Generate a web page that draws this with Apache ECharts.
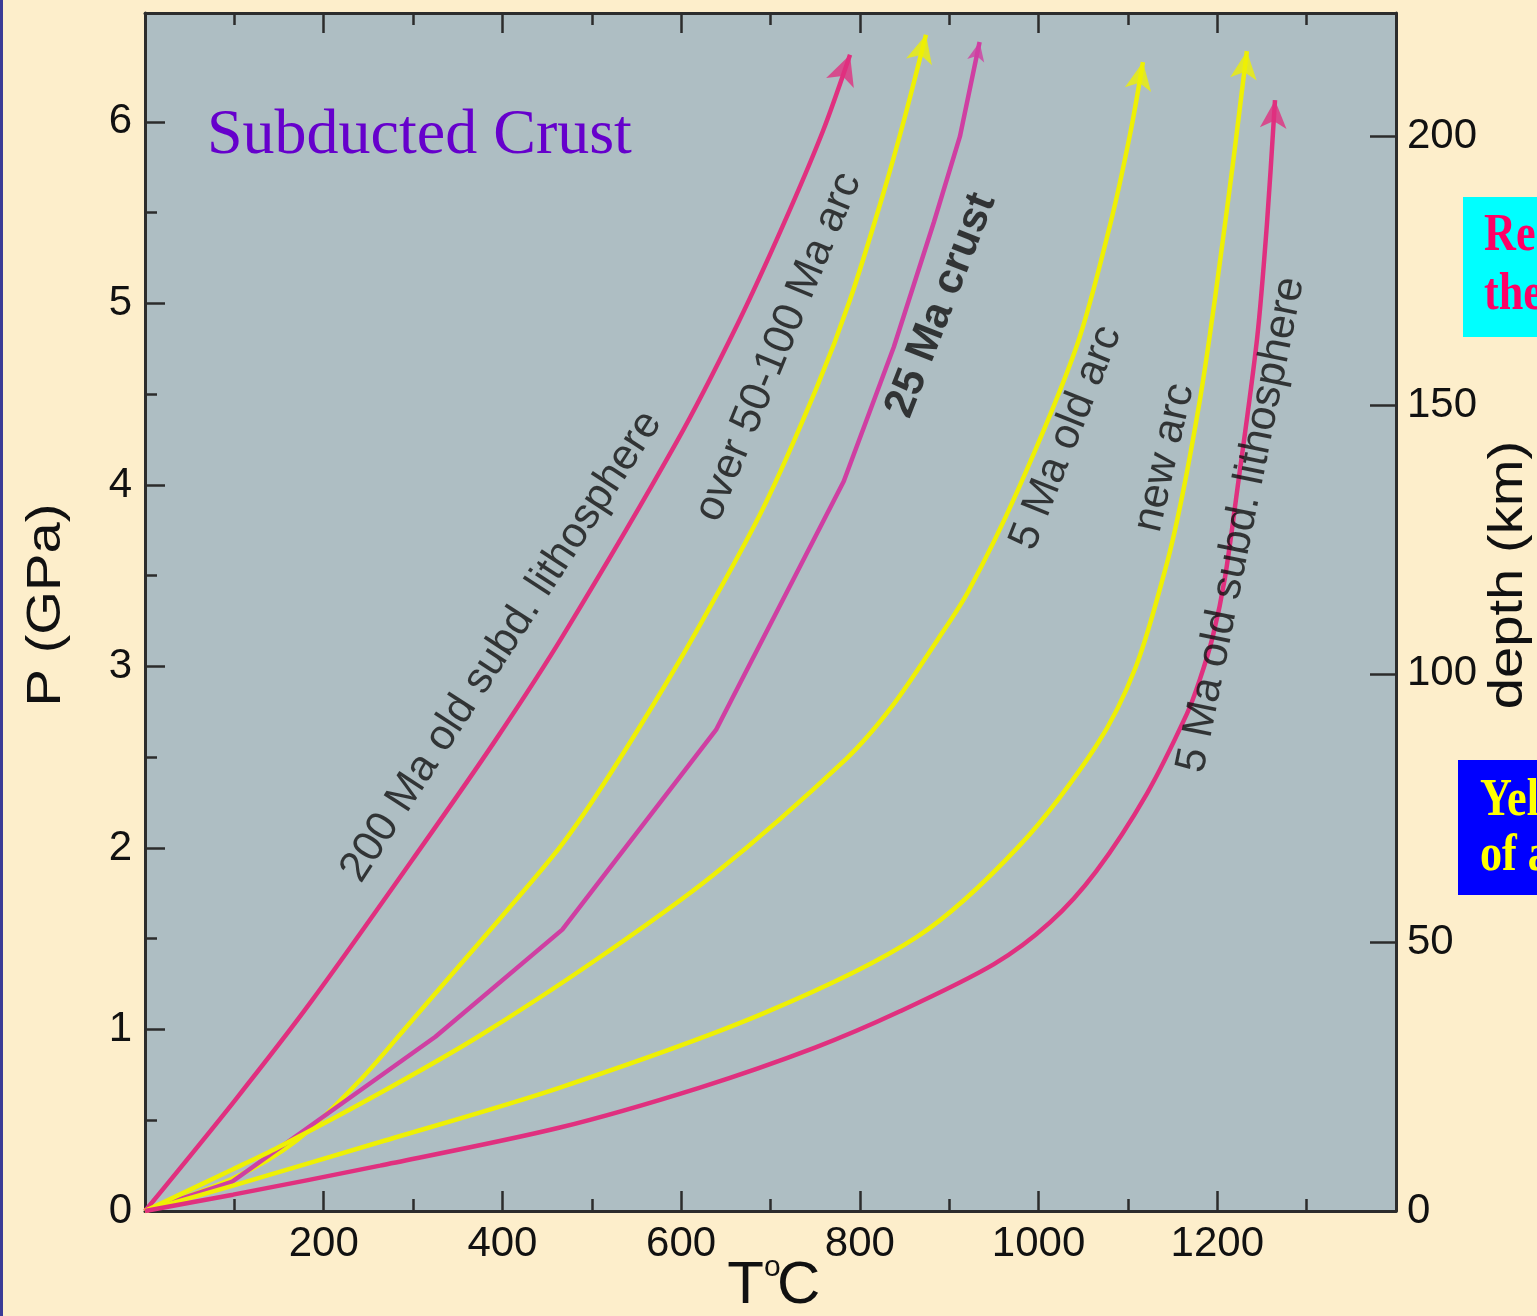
<!DOCTYPE html>
<html>
<head>
<meta charset="utf-8">
<script src="https://cdn.jsdelivr.net/npm/echarts@6/dist/echarts.min.js"></script>
<style>
html,body{margin:0;padding:0;background:#FDEECB;}
#c{width:1537px;height:1316px;}
</style>
</head>
<body>
<div id="c"></div>
<script>
// ---------------- data (T in °C, P in GPa) ----------------
const xTickLabels = [200, 400, 600, 800, 1000, 1200];
const pressureTicks = [0, 1, 2, 3, 4, 5, 6];
const pressureMinorTicks = [0.5, 1.5, 2.5, 3.5, 4.5, 5.5];
const depthTicks = [0, 50, 100, 150, 200];

const curveNames = ['200 Ma old subd. lithosphere', 'over 50-100 Ma arc', '25 Ma crust',
                    '5 Ma old arc', 'new arc', '5 Ma old subd. lithosphere'];

const lith200Ma = [[0,0],[100.7,0.61],[186.9,1.16],[310,2.01],[391.7,2.59],[467.8,3.17],
                   [595.3,4.24],[662.5,4.88],[714,5.43],[758.7,5.95],[789,6.37]];
const arc50to100Ma = [[0,0],[98.5,0.18],[170.1,0.39],[240.6,0.72],[298.8,1.05],[372.6,1.47],
                      [458.8,1.97],[503.6,2.28],[565.2,2.76],[617.8,3.20],[691.6,3.87],
                      [752,4.54],[789,5.02],[825.9,5.60],[850.5,6.03],[874,6.48]];
const crust25Ma = [[0,0],[97,0.16],[325,0.96],[467,1.55],[639,2.65],[782,4.02],[838,4.76],
                   [883,5.45],[912,5.92],[934,6.44]];
const arc5Ma = [[0,0],[98.5,0.23],[148.8,0.35],[263,0.65],[372.7,0.96],[503.6,1.38],
                [635.6,1.85],[784.5,2.49],[836,2.78],[887.4,3.15],[921,3.41],[975.8,3.96],
                [1043,4.77],[1079.9,5.43],[1102.3,5.93],[1116.8,6.33]];
const newArc = [[0,0],[98.5,0.14],[263,0.38],[464.4,0.68],[692.7,1.09],[863.9,1.51],
                [978.1,2.01],[1064.2,2.56],[1109,3.00],[1143.7,3.57],[1161.6,3.96],
                [1180.6,4.47],[1191.8,4.83],[1203,5.23],[1217.5,5.77],[1225.3,6.08],[1233.1,6.39]];
const lith5Ma = [[0,0],[98.5,0.09],[263,0.25],[464.4,0.46],[621.1,0.68],[749.8,0.90],
                 [844.9,1.10],[950.1,1.36],[1012.8,1.59],[1064.2,1.87],[1121.3,2.30],
                 [1166.1,2.74],[1180.6,2.93],[1195.2,3.17],[1208.6,3.49],[1222,3.96],
                 [1244.4,4.80],[1255.6,5.44],[1264.6,6.12]];

// label anchor points (data coordinates)
const curveLabelAnchor = [[399,3.11],[709,4.76],[891,4.99],[1031,4.26],[1141,4.15],[1227,3.78]];

// ---------------- styling ----------------
const FONT = '"Liberation Sans", Arial, Helvetica, sans-serif';
const SERIF = '"Liberation Serif", "Times New Roman", serif';
const AXIS = '#2c2c2c';
const MAGENTA = '#E0307F';
const MAGENTA2 = '#CF3FA2';
const YELLOW = '#EEF004';
const labelAngles = [56.9, 67.5, 68.7, 68.3, 77.1, 78.5];

const curves = [
  {name: curveNames[0], data: lith200Ma,    color: MAGENTA,  smooth: 0.3, width: 4.5, arrow: [22, 30]},
  {name: curveNames[1], data: arc50to100Ma, color: YELLOW,   smooth: 0.3, width: 4.5, arrow: [20, 28]},
  {name: curveNames[2], data: crust25Ma,    color: MAGENTA2, smooth: false, width: 4.5, arrow: [13, 19]},
  {name: curveNames[3], data: arc5Ma,       color: YELLOW,   smooth: 0.3, width: 4.5, arrow: [20, 28]},
  {name: curveNames[4], data: newArc,       color: YELLOW,   smooth: 0.3, width: 4.5, arrow: [20, 28]},
  {name: curveNames[5], data: lith5Ma,      color: MAGENTA,  smooth: 0.3, width: 4.5, arrow: [20, 28]}
];

const chart = echarts.init(document.getElementById('c'), null, {renderer: 'canvas', width: 1537, height: 1316});

function baseX(pos, showLabel) {
  return {
    type: 'value', position: pos, min: 0, max: 1400, interval: 200,
    axisLine: {show: true, onZero: false, lineStyle: {color: AXIS, width: 3}},
    axisTick: {show: true, inside: true, length: 20, lineStyle: {color: AXIS, width: 2.5}},
    minorTick: {show: true, splitNumber: 2, length: 12, lineStyle: {color: AXIS, width: 2.5}},
    axisLabel: {show: showLabel, fontSize: 42, fontFamily: FONT, color: '#111', margin: 12,
                formatter: v => xTickLabels.indexOf(v) >= 0 ? String(v) : ''},
    splitLine: {show: false}, minorSplitLine: {show: false}
  };
}

const lineSeries = curves.map(c => ({
  type: 'line', name: c.name, data: c.data, xAxisIndex: 0, yAxisIndex: 0,
  symbol: 'none', showSymbol: false, smooth: c.smooth,
  lineStyle: {color: c.color, width: c.width}, itemStyle: {color: c.color},
  z: 3, silent: true
}));

const labelSeries = {
  type: 'scatter', id: 'labels', xAxisIndex: 0, yAxisIndex: 0,
  symbol: 'circle', symbolSize: 1, itemStyle: {color: 'rgba(0,0,0,0)'}, silent: true, z: 6,
  label: {show: true, position: 'inside', fontSize: 43, fontFamily: FONT, color: '#111'},
  data: curveNames.map((t, i) => ({
    value: curveLabelAnchor[i],
    label: {show: true, formatter: t, rotate: labelAngles[i], fontWeight: i === 2 ? 'bold' : 'normal'}
  }))
};

const arrowSeries = {
  type: 'scatter', id: 'arrows', xAxisIndex: 0, yAxisIndex: 0, symbol: 'arrow',
  silent: true, z: 5, data: []
};

function txt(x, y, text, size, family, fill, align, extra) {
  return Object.assign({type: 'text', x: x, y: y, z: 10,
    style: {text: text, fontSize: size, fontFamily: family, fill: fill,
            align: align, verticalAlign: 'middle', textAlign: align, textVerticalAlign: 'middle'}}, extra || {});
}

const option = {
  animation: false,
  backgroundColor: '#FDEECB',
  grid: {left: 145, right: 141, top: 13, bottom: 105, show: true, backgroundColor: '#AEBEC3',
         borderWidth: 0, containLabel: false, outerBoundsMode: 'none'},
  xAxis: [baseX('bottom', true), baseX('top', false)],
  yAxis: [
    {
      type: 'value', position: 'left', min: 0, max: 6.6, interval: 1,
      axisLine: {show: true, onZero: false, lineStyle: {color: AXIS, width: 3}},
      axisTick: {show: true, inside: true, length: 20, customValues: pressureTicks, lineStyle: {color: AXIS, width: 2.5}},
      axisLabel: {show: true, fontSize: 42, fontFamily: FONT, color: '#111', margin: 13,
                  customValues: pressureTicks,
                  formatter: v => pressureTicks.indexOf(v) >= 0 ? String(v) : ''},
      splitLine: {show: false}
    },
    {
      type: 'value', position: 'right', min: 0, max: 223, interval: 50,
      axisLine: {show: true, onZero: false, lineStyle: {color: AXIS, width: 3}},
      axisTick: {show: true, inside: true, length: 26, customValues: depthTicks, lineStyle: {color: AXIS, width: 2.5}},
      axisLabel: {show: true, fontSize: 42, fontFamily: FONT, color: '#111', margin: 11,
                  customValues: depthTicks,
                  formatter: v => depthTicks.indexOf(v) >= 0 ? String(v) : ''},
      splitLine: {show: false}
    },
    {
      type: 'value', position: 'left', min: 0, max: 6.6, interval: 0.5,
      axisLine: {show: false, onZero: false},
      axisTick: {show: true, inside: true, length: 12, customValues: pressureMinorTicks, lineStyle: {color: AXIS, width: 2.5}},
      axisLabel: {show: false},
      splitLine: {show: false}
    }
  ],
  series: [...lineSeries, arrowSeries, labelSeries],
  graphic: [
    {type: 'rect', x: 0, y: 0, shape: {x: 0, y: 0, width: 3, height: 1316}, style: {fill: '#3b3b96'}, z: 10},
    txt(207, 136, 'Subducted Crust', 64, SERIF, '#6600CC', 'left'),
    txt(47, 605, 'P (GPa)', 48, FONT, '#111', 'center', {rotation: Math.PI / 2, scaleX: 1.17}),
    txt(1509, 575, 'depth (km)', 48, FONT, '#111', 'center', {rotation: Math.PI / 2, scaleX: 1.17}),
    txt(764, 1286, 'T', 60, FONT, '#111', 'right'),
    txt(764, 1268, 'o', 30, FONT, '#111', 'left'),
    txt(777, 1286, 'C', 60, FONT, '#111', 'left'),
    {type: 'rect', x: 0, y: 0, shape: {x: 1463, y: 197, width: 80, height: 140}, style: {fill: '#00FFFF'}, z: 10},
    {type: 'rect', x: 0, y: 0, shape: {x: 1458, y: 760, width: 85, height: 135}, style: {fill: '#0000FF'}, z: 10},
    txt(1484, 237, 'Red', 52, SERIF, '#FF0066', 'left', {scaleX: 0.85, z: 11}),
    txt(1484, 296, 'the', 52, SERIF, '#FF0066', 'left', {scaleX: 0.85, z: 11}),
    txt(1480, 802, 'Yellow', 52, SERIF, '#FFFF00', 'left', {scaleX: 0.85, z: 11}),
    txt(1480, 857, 'of arc', 52, SERIF, '#FFFF00', 'left', {scaleX: 0.85, z: 11})
  ]
};
// bold serif for the boxed notes
option.graphic.slice(-4).forEach(g => { g.style.fontWeight = 'bold'; });

chart.setOption(option);

// arrowheads: tip at the last point, oriented along the last segment (through the library's scales)
const finder = {xAxisIndex: 0, yAxisIndex: 0};
const arrowData = curves.map(c => {
  const n = c.data.length;
  const a = chart.convertToPixel(finder, c.data[n - 2]);
  const b = chart.convertToPixel(finder, c.data[n - 1]);
  const ang = Math.atan2(-(b[1] - a[1]), b[0] - a[0]) * 180 / Math.PI;
  return {value: c.data[n - 1], symbolRotate: ang - 90, symbolSize: c.arrow, itemStyle: {color: c.color}};
});
chart.setOption({series: [{id: 'arrows', data: arrowData}]});
</script>
</body>
</html>
